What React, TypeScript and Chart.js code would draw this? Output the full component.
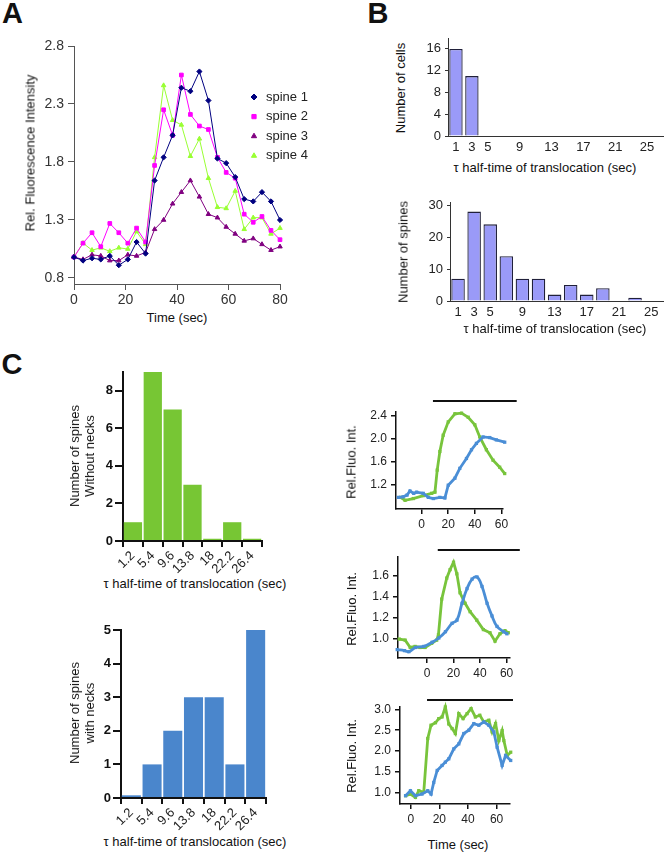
import React, { useEffect, useRef } from "react";
import { Chart, registerables } from "chart.js";
import { drawPoint } from "chart.js/helpers";
Chart.register(...registerables);

const FONT = "'Liberation Sans', Arial, Helvetica, sans-serif";
Chart.defaults.font.family = FONT;
Chart.defaults.color = "#222";

// ---------- Panel A ----------
const timeA = [0, 3.5, 7, 10.4, 13.9, 17.4, 20.9, 24.3, 27.8, 31.3, 34.8, 38.3, 41.7, 45.2, 48.7, 52.2, 55.7, 59.1, 62.6, 66.1, 69.6, 73.0, 76.5, 80];
const spine1 = [0.98, 0.95, 0.97, 0.96, 0.99, 0.91, 0.96, 1.11, 1.01, 1.64, 1.84, 2.03, 2.44, 2.41, 2.58, 2.33, 1.83, 1.79, 1.67, 1.48, 1.46, 1.54, 1.46, 1.30];
const spine2 = [0.98, 1.10, 1.19, 1.07, 1.27, 1.19, 1.10, 1.23, 1.11, 1.77, 2.25, 2.03, 2.55, 2.21, 2.11, 2.08, 1.84, 1.71, 1.66, 1.35, 1.28, 1.33, 1.21, 1.13];
const spine3 = [0.98, 0.96, 1.00, 0.99, 0.95, 0.95, 1.00, 0.99, 1.02, 1.22, 1.30, 1.44, 1.54, 1.64, 1.50, 1.35, 1.32, 1.24, 1.18, 1.12, 1.14, 1.09, 1.04, 1.07];
const spine4 = [0.98, 1.10, 1.04, 1.06, 1.03, 1.06, 1.05, 1.20, 1.09, 1.84, 2.46, 2.16, 2.12, 1.85, 2.00, 1.66, 1.41, 1.40, 1.55, 1.22, 1.32, 1.32, 1.18, 1.23];
const spineLabels = ["spine 1", "spine 2", "spine 3", "spine 4"];
const yTicksA = [0.8, 1.3, 1.8, 2.3, 2.8];
const xTicksA = [0, 20, 40, 60, 80];

// ---------- Panel B ----------
const binCenters = [1, 3, 5, 7, 9, 11, 13, 15, 17, 19, 21, 23, 25];
const cellCounts = [16, 11, 0, 0, 0, 0, 0, 0, 0, 0, 0, 0, 0];
const spineCounts = [7, 28, 24, 14, 7, 7, 2, 5, 2, 4, 0, 1, 0];
const bTicks = [1, 3, 5, 9, 13, 17, 21, 25];
const yTicksBcells = [0, 4, 8, 12, 16];
const yTicksBspines = [0, 10, 20, 30];

// ---------- Panel C left ----------
const cCats = ["1.2", "5.4", "9.6", "13.8", "18", "22.2", "26.4"];
const noNeck = [1, 9, 7, 3, 0.12, 1, 0.12];
const withNeck = [0.08, 1, 2, 3, 3, 1, 5];
const yTicksNoNeck = [0, 2, 4, 6, 8];
const yTicksWithNeck = [0, 1, 2, 3, 4, 5];

// ---------- Panel C right ----------
const tG1 = [-16, -12.5, -6.3, 1.2, 7.5, 10, 11.7, 13.7, 16.2, 20, 25, 30, 35, 40, 43.7, 48.7, 53.7, 58.7, 62.5];
const vG1 = [0.99, 0.94, 0.97, 1.02, 1.06, 1.08, 1.46, 1.78, 2.06, 2.29, 2.43, 2.44, 2.37, 2.24, 2.03, 1.81, 1.63, 1.51, 1.40];
const tB1 = [-17.5, -14, -11, -8.8, -6, -3.8, 1.2, 5, 8.8, 13.7, 17.5, 20, 25, 28.7, 33.7, 37.5, 41.2, 46.2, 51.2, 56.2, 62.5];
const vB1 = [0.99, 1.0, 1.03, 1.1, 1.06, 1.08, 1.06, 0.99, 0.97, 0.99, 0.98, 1.2, 1.32, 1.49, 1.66, 1.81, 1.92, 2.03, 2.02, 1.98, 1.94];

const tG2 = [-21, -16.5, -12.7, -9, -5.3, -1.5, 3.5, 7.3, 8.6, 11.1, 14.9, 17.4, 20, 22.5, 24.9, 28.7, 32.5, 37.5, 42.5, 47.5, 51.3, 55, 58.8, 61.3];
const vG2 = [1.0, 0.99, 0.92, 0.93, 0.92, 0.92, 0.96, 0.99, 1.04, 1.38, 1.58, 1.66, 1.73, 1.62, 1.44, 1.34, 1.26, 1.18, 1.09, 1.06, 0.98, 1.05, 1.08, 1.06];
const tB2 = [-22.5, -17, -13.7, -8.7, -2.4, 3.9, 8.9, 13.9, 18.9, 22.6, 26.4, 30.2, 34, 37.7, 41.5, 45.3, 49, 52.8, 57.8, 60.3];
const vB2 = [0.90, 0.89, 0.88, 0.92, 0.93, 0.97, 1.01, 1.07, 1.15, 1.18, 1.34, 1.48, 1.57, 1.59, 1.50, 1.34, 1.22, 1.12, 1.07, 1.05];

const tG3 = [-3.6, -0.2, 3.3, 5.6, 9.1, 11.9, 14.2, 17.3, 19.6, 21.9, 24.2, 26.6, 28.9, 31.2, 33.6, 36.6, 39.4, 42.2, 45.2, 48.3, 51.1, 54.6, 56.9, 59.3, 61.6, 63.9, 65.1, 67.5, 69.9];
const vG3 = [0.92, 0.96, 0.88, 1.04, 1.0, 2.30, 2.62, 2.68, 2.78, 2.82, 3.06, 2.65, 2.54, 2.42, 2.9, 2.78, 2.9, 3.02, 2.82, 2.86, 2.7, 2.74, 2.46, 2.66, 2.25, 2.49, 2.25, 1.89, 1.97];
const tB3 = [-3.6, -0.2, 3.3, 7.9, 11.9, 14.2, 16.1, 18.5, 21.9, 24.2, 26.6, 30.1, 33.6, 37.1, 40.6, 44.1, 47.6, 51.1, 54.6, 58.1, 60.4, 63.9, 66.3, 69.9];
const vB3 = [0.92, 1.04, 0.92, 0.96, 1.04, 0.96, 1.24, 1.53, 1.65, 1.73, 1.81, 2.05, 2.17, 2.42, 2.5, 2.66, 2.62, 2.7, 2.62, 2.46, 2.09, 1.65, 1.89, 1.77];

const stimTop = [8.5, 71.5];
const stimMid = [8.1, 70];
const stimBot = [11.4, 71.5];
const xTicksC = [0, 20, 40, 60];
const yTicksC1 = [1.2, 1.6, 2.0, 2.4];
const yTicksC2 = [1.0, 1.2, 1.4, 1.6];
const yTicksC3 = [1.0, 1.5, 2.0, 2.5, 3.0];

// ---------- helpers ----------
type Box = { x0: number; y0: number; x1: number; y1: number; ml: number; mt: number; mr: number; mb: number };

const fit = (size: number, horizontal: boolean) => (s: any) => {
  if (horizontal) s.height = size;
  else s.width = size;
  s.paddingLeft = 0;
  s.paddingRight = 0;
  s.paddingTop = 0;
  s.paddingBottom = 0;
};
const fixedTicks = (vals: number[]) => (s: any) => {
  s.ticks = vals.map((v) => ({ value: v }));
};
const pts = (xs: number[], ys: number[]) => xs.map((x, i) => ({ x, y: ys[i] }));

function ChartBox({ box, make }: { box: Box; make: (b: Box) => any }) {
  const ref = useRef<HTMLCanvasElement>(null);
  const w = Math.round(box.x1 - box.x0 + box.ml + box.mr);
  const h = Math.round(box.y1 - box.y0 + box.mt + box.mb);
  useEffect(() => {
    const chart = new Chart(ref.current as HTMLCanvasElement, make(box));
    return () => chart.destroy();
  }, []);
  return (
    <canvas
      ref={ref}
      width={w}
      height={h}
      style={{ position: "absolute", left: Math.round(box.x0 - box.ml), top: Math.round(box.y0 - box.mt), width: w, height: h }}
    />
  );
}

function Txt({ x, y, children, size = 13, bold = false, rotate = false, lh = 15 }: any) {
  return (
    <div
      style={{
        position: "absolute",
        left: x,
        top: y,
        transform: `translate(-50%, -50%)${rotate ? " rotate(-90deg)" : ""}`,
        fontFamily: FONT,
        fontSize: size,
        fontWeight: bold ? "bold" : "normal",
        whiteSpace: "nowrap",
        textAlign: "center",
        lineHeight: `${lh}px`,
        color: "#111",
      }}
    >
      {children}
    </div>
  );
}

const tickGrid = (len: number, color: string, width = 1) => ({
  display: true,
  drawOnChartArea: false,
  drawTicks: len > 0,
  tickLength: len,
  color,
  lineWidth: width,
});

// ---------- chart builders ----------
const boxA: Box = { x0: 74, y0: 46, x1: 280, y1: 284, ml: 40, mt: 8, mr: 40, mb: 24 };
const makeA = (b: Box) => {
  const colors = ["#000080", "#ff00ff", "#800080", "#99ff33"];
  const styles = ["rectRot", "rect", "triangle", "triangle"];
  const series = [spine1, spine2, spine3, spine4];
  const legendA = {
    id: "legendA",
    afterDraw(chart: any) {
      const { ctx, chartArea } = chart;
      ctx.save();
      chart.data.datasets.forEach((ds: any, i: number) => {
        const x = chartArea.left + 180;
        const y = chartArea.top + 51 + i * 19.6;
        ctx.fillStyle = ds.borderColor;
        ctx.strokeStyle = ds.borderColor;
        drawPoint(ctx, { pointStyle: ds.pointStyle, radius: 3, borderWidth: 1, rotation: 0 } as any, x, y);
        ctx.fillStyle = "#222";
        ctx.font = `13px ${FONT}`;
        ctx.textBaseline = "middle";
        ctx.textAlign = "left";
        ctx.fillText(ds.label, x + 12, y);
      });
      ctx.restore();
    },
  };
  return {
    type: "line",
    data: {
      datasets: series.map((s, i) => ({
        label: spineLabels[i],
        data: pts(timeA, s),
        borderColor: colors[i],
        backgroundColor: colors[i],
        borderWidth: 1,
        pointStyle: styles[i],
        pointRadius: 2.6,
        pointBorderWidth: 1,
        clip: false,
      })),
    },
    options: {
      animation: false,
      responsive: false,
      layout: { padding: { top: b.mt, right: b.mr, left: 0, bottom: 0 } },
      plugins: { legend: { display: false }, tooltip: { enabled: false } },
      scales: {
        x: {
          type: "linear",
          min: 0,
          max: 80,
          afterBuildTicks: fixedTicks(xTicksA),
          afterFit: fit(b.mb, true),
          grid: tickGrid(6, "#555"),
          border: { display: true, color: "#555", width: 1 },
          ticks: { font: { size: 14 }, padding: 2, color: "#333" },
        },
        y: {
          type: "linear",
          min: 0.748,
          max: 2.8,
          afterBuildTicks: fixedTicks(yTicksA),
          afterFit: fit(b.ml, false),
          grid: tickGrid(6, "#555"),
          border: { display: true, color: "#555", width: 1 },
          ticks: { font: { size: 14 }, padding: 4, color: "#333", callback: (v: any) => Number(v).toFixed(1) },
        },
      },
    },
    plugins: [legendA],
  };
};

const makeB = (counts: number[], xmax: number, ymax: number, yticks: number[]) => (b: Box) => ({
  type: "bar",
  data: {
    datasets: [
      {
        data: pts(binCenters, counts),
        backgroundColor: "#9a9af8",
        borderColor: "#20203a",
        borderWidth: 1.3,
        barPercentage: 0.84,
        categoryPercentage: 1,
      },
    ],
  },
  options: {
    animation: false,
    responsive: false,
    layout: { padding: { top: b.mt, right: b.mr, left: 0, bottom: 0 } },
    plugins: { legend: { display: false }, tooltip: { enabled: false } },
    scales: {
      x: {
        type: "linear",
        offset: false,
        min: 0,
        max: xmax,
        afterBuildTicks: fixedTicks(bTicks),
        afterFit: fit(b.mb, true),
        grid: tickGrid(0, "#333"),
        border: { display: true, color: "#333", width: 1 },
        ticks: { font: { size: 13 }, padding: 4, color: "#222" },
      },
      y: {
        type: "linear",
        min: 0,
        max: ymax,
        afterBuildTicks: fixedTicks(yticks),
        afterFit: fit(b.ml, false),
        grid: tickGrid(3, "#333"),
        border: { display: true, color: "#333", width: 1 },
        ticks: { font: { size: 13 }, padding: 4, color: "#222" },
      },
    },
  },
});
const boxB1: Box = { x0: 448, y0: 38.3, x1: 663, y1: 136.7, ml: 40, mt: 8, mr: 1, mb: 22 };
const boxB2: Box = { x0: 450, y0: 201.8, x1: 664, y1: 301, ml: 40, mt: 8, mr: 0, mb: 22 };

const makeCL = (vals: number[], color: string, ymax: number, yticks: number[]) => (b: Box) => ({
  type: "bar",
  data: {
    labels: cCats,
    datasets: [{ data: vals, backgroundColor: color, borderWidth: 0, barPercentage: 0.92, categoryPercentage: 1 }],
  },
  options: {
    animation: false,
    responsive: false,
    layout: { padding: { top: b.mt, right: b.mr, left: 0, bottom: 0 } },
    plugins: { legend: { display: false }, tooltip: { enabled: false } },
    scales: {
      x: {
        type: "category",
        offset: true,
        afterFit: fit(b.mb, true),
        grid: { ...tickGrid(6, "#111", 2), offset: true },
        border: { display: true, color: "#111", width: 2 },
        ticks: { font: { size: 13 }, padding: 1, color: "#222", minRotation: 45, maxRotation: 45, autoSkip: false },
      },
      y: {
        type: "linear",
        min: 0,
        max: ymax,
        afterBuildTicks: fixedTicks(yticks),
        afterFit: fit(b.ml, false),
        grid: tickGrid(8, "#111", 2),
        border: { display: true, color: "#111", width: 2 },
        ticks: { font: { size: 13, weight: "bold" }, padding: 2, color: "#111" },
      },
    },
  },
});
const boxCL1: Box = { x0: 122.5, y0: 372.4, x1: 261, y1: 541, ml: 40, mt: 8, mr: 14, mb: 34 };
const boxCL2: Box = { x0: 121, y0: 630, x1: 265.5, y1: 797.5, ml: 40, mt: 8, mr: 12, mb: 34 };

const GREEN = "#78c43c";
const BLUE = "#4a8ed6";
const stimPlugin = (range: number[], offset: number) => ({
  id: "stim",
  afterDraw(chart: any) {
    const { ctx, chartArea, scales } = chart;
    const xa = scales.x.getPixelForValue(range[0]);
    const xb = scales.x.getPixelForValue(range[1]);
    const y = chartArea.top - offset;
    ctx.save();
    ctx.strokeStyle = "#111";
    ctx.lineWidth = 2;
    ctx.beginPath();
    ctx.moveTo(xa, y);
    ctx.lineTo(xb, y);
    ctx.stroke();
    ctx.restore();
  },
});
const makeCR = (
  g: { x: number; y: number }[],
  bl: { x: number; y: number }[],
  xr: number[],
  yr: number[],
  yticks: number[],
  stim: number[],
  stimOff: number,
  smoothBlue: boolean
) => (b: Box) => ({
  type: "line",
  data: {
    datasets: [
      { data: bl, borderColor: BLUE, backgroundColor: BLUE, borderWidth: 2.8, pointStyle: "rect", pointRadius: 2.3, pointBorderWidth: 0, tension: smoothBlue ? 0.4 : 0, clip: false },
      { data: g, borderColor: GREEN, backgroundColor: GREEN, borderWidth: 2.8, pointStyle: "rect", pointRadius: 2.3, pointBorderWidth: 0, tension: 0, clip: false },
    ],
  },
  options: {
    animation: false,
    responsive: false,
    layout: { padding: { top: b.mt, right: b.mr, left: 0, bottom: 0 } },
    plugins: { legend: { display: false }, tooltip: { enabled: false } },
    scales: {
      x: {
        type: "linear",
        min: xr[0],
        max: xr[1],
        afterBuildTicks: fixedTicks(xTicksC),
        afterFit: fit(b.mb, true),
        grid: tickGrid(5, "#111", 1.5),
        border: { display: true, color: "#111", width: 1.5 },
        ticks: { font: { size: 12 }, padding: 3, color: "#222" },
      },
      y: {
        type: "linear",
        min: yr[0],
        max: yr[1],
        afterBuildTicks: fixedTicks(yticks),
        afterFit: fit(b.ml, false),
        grid: tickGrid(5, "#111", 1.5),
        border: { display: true, color: "#111", width: 1.5 },
        ticks: { font: { size: 12 }, padding: 4, color: "#222", callback: (v: any) => Number(v).toFixed(1) },
      },
    },
  },
  plugins: [stimPlugin(stim, stimOff)],
});
const boxCR1: Box = { x0: 396, y0: 412.2, x1: 503.3, y1: 509, ml: 40, mt: 16, mr: 20, mb: 24 };
const boxCR2: Box = { x0: 398.3, y0: 557, x1: 510, y1: 658.3, ml: 40, mt: 12, mr: 16, mb: 24 };
const boxCR3: Box = { x0: 400, y0: 706.8, x1: 510, y1: 803.3, ml: 40, mt: 12, mr: 10, mb: 24 };

export default function App() {
  const tau = "\u03c4 half-time of translocation (sec)";
  return (
    <div style={{ position: "absolute", left: 0, top: 0, width: 664, height: 852, background: "#fff" }}>
      <Txt x={12.5} y={13} size={29} bold>A</Txt>
      <Txt x={378} y={13} size={29} bold>B</Txt>
      <Txt x={12} y={364} size={29} bold>C</Txt>

      <ChartBox box={boxA} make={makeA} />
      <Txt x={30} y={153} rotate>Rel. Fluorescence Intensity</Txt>
      <Txt x={177} y={317}>Time (sec)</Txt>

      <ChartBox box={boxB1} make={makeB(cellCounts, 27, 18, yTicksBcells)} />
      <Txt x={400} y={88} rotate>Number of cells</Txt>
      <Txt x={545} y={167}>{tau}</Txt>

      <ChartBox box={boxB2} make={makeB(spineCounts, 26.6, 31, yTicksBspines)} />
      <Txt x={403} y={252} rotate>Number of spines</Txt>
      <Txt x={555} y={328}>{tau}</Txt>

      <ChartBox box={boxCL1} make={makeCL(noNeck, "#77c634", 9, yTicksNoNeck)} />
      <Txt x={81.5} y={456} rotate>
        Number of spines
        <br />
        Without necks
      </Txt>
      <Txt x={195} y={583}>{tau}</Txt>

      <ChartBox box={boxCL2} make={makeCL(withNeck, "#4a86cc", 5, yTicksWithNeck)} />
      <Txt x={81.5} y={713} rotate>
        Number of spines
        <br />
        with necks
      </Txt>
      <Txt x={195} y={841}>{tau}</Txt>

      <ChartBox box={boxCR1} make={makeCR(pts(tG1, vG1), pts(tB1, vB1), [-19.3, 61.2], [0.79, 2.46], yTicksC1, stimTop, 11, false)} />
      <Txt x={351} y={462} rotate>Rel.Fluo. Int.</Txt>

      <ChartBox box={boxCR2} make={makeCR(pts(tG2, vG2), pts(tB2, vB2), [-21.9, 62.6], [0.82, 1.78], yTicksC2, stimMid, 7, true)} />
      <Txt x={351} y={609} rotate>Rel.Fluo. Int.</Txt>

      <ChartBox box={boxCR3} make={makeCR(pts(tG3, vG3), pts(tB3, vB3), [-7.5, 69.4], [0.72, 3.06], yTicksC3, stimBot, 7, false)} />
      <Txt x={351} y={756} rotate>Rel.Fluo. Int.</Txt>
      <Txt x={458} y={844}>Time (sec)</Txt>
    </div>
  );
}
